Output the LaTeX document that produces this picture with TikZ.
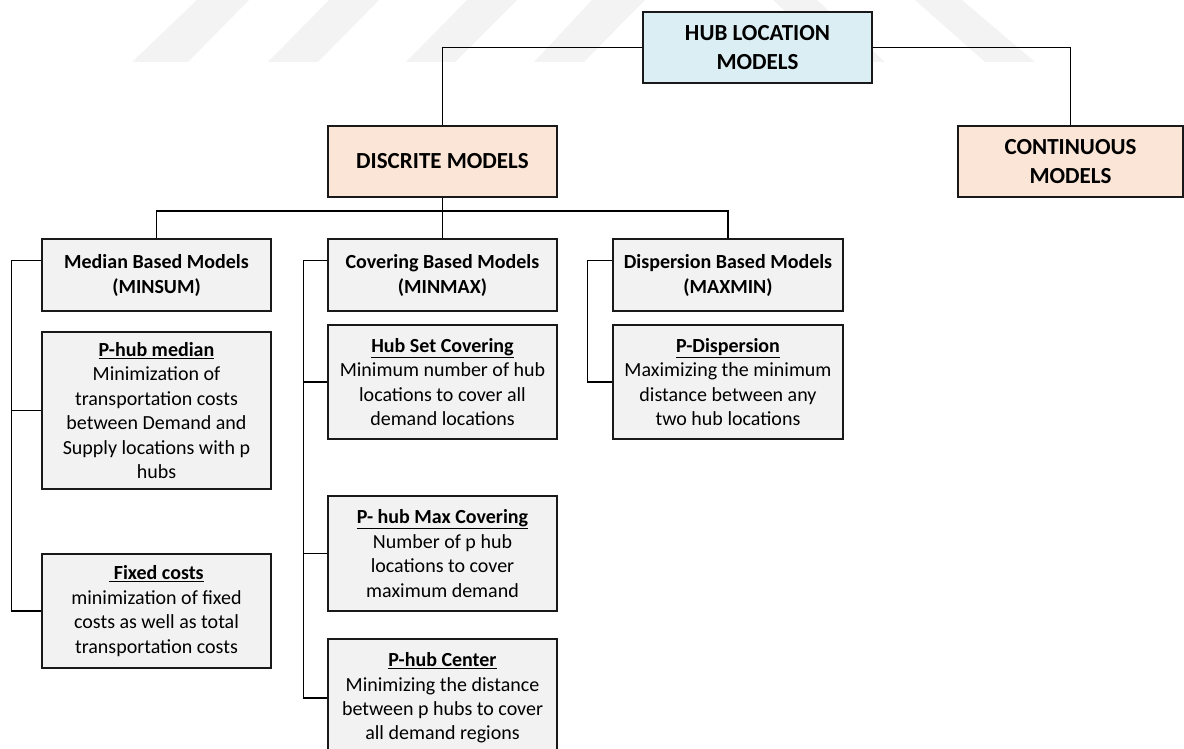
\documentclass[tikz,border=0pt]{standalone}
\usepackage{fontspec}
\setmainfont{Carlito}
\usetikzlibrary{calc}
\definecolor{hubblue}{HTML}{DAEEF3}
\definecolor{peach}{HTML}{FBE5D6}
\definecolor{panel}{HTML}{F2F2F2}
\definecolor{stripe}{HTML}{F3F3F3}
\newcommand\cardtitle[1]{\underline{\textbf{#1}}}

\begin{document}
\begin{tikzpicture}[x=1pt,y=-1pt,
  card/.style={draw=black!90, line width=1.3pt, inner sep=0pt, align=center, minimum width=229pt},
  topcard/.style={card, font=\fontsize{23}{29}\selectfont\bfseries, minimum height=71pt},
  headcard/.style={card, fill=panel, font=\fontsize{20}{25}\selectfont\bfseries, minimum height=72pt},
  desccard/.style={card, fill=panel, font=\fontsize{20}{24.4}\selectfont},
  wire/.style={line width=1.3pt, black},
  band/.style={fill=stripe}
]
\useasboundingbox (0,0) rectangle (1184,749);
\clip (0,0) rectangle (1184,749);

% faint slanted bands in the page header
\fill[band] (132,62) -- (188,62) -- (249,0) -- (197,0) -- cycle;
\fill[band] (268,62) -- (318,62) -- (379,0) -- (329,0) -- cycle;
\fill[band] (406,62) -- (455,62) -- (517,0) -- (467,0) -- cycle;
\fill[band] (534,62) -- (584,62) -- (645,0) -- (592,0) -- cycle;
\fill[band] (773,0) -- (817,0) -- (885,62) -- (840,62) -- cycle;
\fill[band] (915,0) -- (962,0) -- (1035,62) -- (985,62) -- cycle;

% top levels
\node[topcard, fill=hubblue] (hub) at (757.5,47.5) {HUB LOCATION\\MODELS};
\node[topcard, fill=peach] (disc) at (442.5,161.5) {DISCRITE MODELS};
\node[topcard, fill=peach, minimum width=225pt] (cont) at (1070.5,161.5) {CONTINUOUS\\MODELS};

% model families
\node[headcard] (median) at (156.5,275) {Median Based Models\\(MINSUM)};
\node[headcard] (cover) at (442.5,275) {Covering Based Models\\(MINMAX)};
\node[headcard, minimum width=230pt] (disp) at (728,275) {Dispersion Based Models\\(MAXMIN)};

% individual models
\node[desccard, minimum height=157pt] (pmed) at (156.5,410.5)
  {\cardtitle{P-hub median}\\Minimization of\\transportation costs\\between Demand and\\Supply locations with p\\hubs};
\node[desccard, minimum height=114pt] (fixed) at (156.5,611)
  {\cardtitle{~Fixed costs}\\minimization of fixed\\costs as well as total\\transportation costs};
\node[desccard, minimum height=114pt] (hsc) at (442.5,382)
  {\cardtitle{Hub Set Covering}\\Minimum number of hub\\locations to cover all\\demand locations};
\node[desccard, minimum height=115pt] (pmc) at (442.5,553.5)
  {\cardtitle{P- hub Max Covering}\\Number of p hub\\locations to cover\\maximum demand};
\node[desccard, minimum height=118pt] (pcen) at (442.5,698)
  {\cardtitle{P-hub Center}\\Minimizing the distance\\between p hubs to cover\\all demand regions};
\node[desccard, minimum height=114pt, minimum width=230pt] (pdisp) at (728,382)
  {\cardtitle{P-Dispersion}\\Maximizing the minimum\\distance between any\\two hub locations};

% tree connectors
\draw[wire] (hub.west) -| (disc.north);
\draw[wire] (hub.east) -| (cont.north);
\coordinate (bus) at (442.5,211);
\draw[wire] (disc.south) -- (bus);
\draw[wire] (median.north) |- (bus) -| (disp.north);
\draw[wire] (cover.north) -- (bus);

% side rails
\draw[wire] ([yshift=-22pt]median.north west) -- ++(-30,0) |- (fixed.west);
\draw[wire] (pmed.west) -- ++(-30,0);
\draw[wire] ([yshift=-22pt]cover.north west) -- ++(-24,0) |- (pcen.west);
\draw[wire] (hsc.west) -- ++(-24,0);
\draw[wire] (pmc.west) -- ++(-24,0);
\draw[wire] ([yshift=-22pt]disp.north west) -- ++(-25,0) |- (pdisp.west);
\end{tikzpicture}
\end{document}
